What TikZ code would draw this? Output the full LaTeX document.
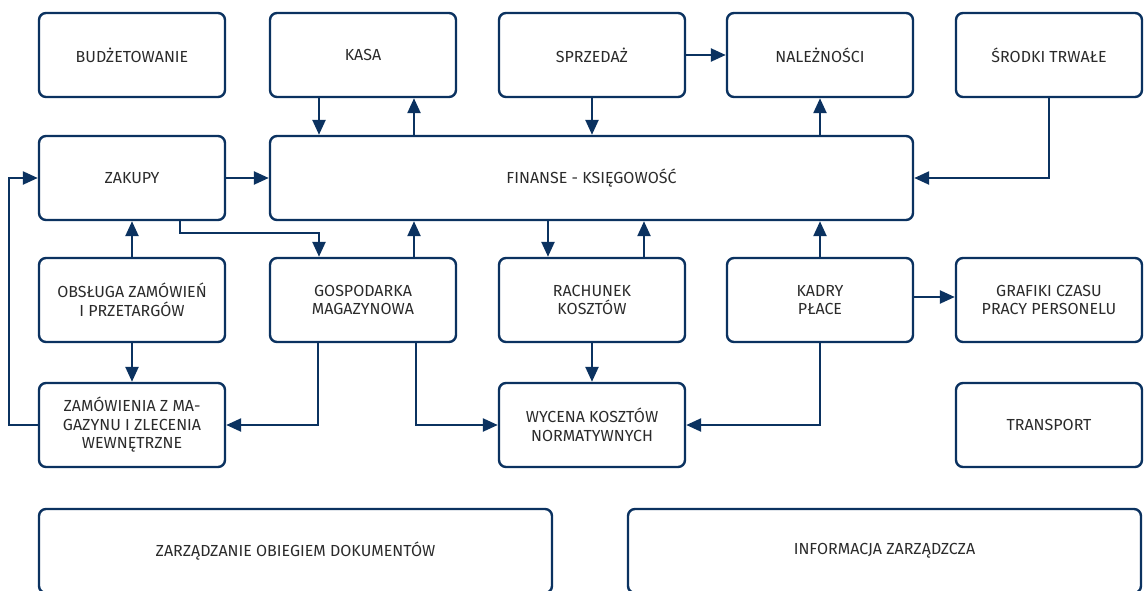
\documentclass[tikz,border=0pt]{standalone}
\usepackage{fontspec}
\setmainfont{Fira Sans}
\usetikzlibrary{arrows.meta}
\definecolor{navy}{HTML}{0B3260}
\definecolor{txt}{HTML}{2B2B2B}
\tikzset{
  box/.style={draw=navy, line width=2.4pt, rounded corners=7pt, align=center, text=txt,
    font=\fontsize{16}{18.5}\selectfont, inner sep=0pt, minimum width=186pt, minimum height=84pt},
  conn/.style={draw=navy, line width=2.4pt, -{Triangle[length=15pt,width=13pt]}}
}
\begin{document}
\begin{tikzpicture}[x=1pt,y=-1pt]
\useasboundingbox (0,0) rectangle (1144,590);
% row 1
\node[box] (bud) at (132,55) {BUDŻETOWANIE};
\node[box] (kas) at (363,55) {KASA};
\node[box] (spr) at (592,55) {SPRZEDAŻ};
\node[box] (nal) at (820,55) {NALEŻNOŚCI};
\node[box] (sro) at (1049,55) {ŚRODKI TRWAŁE};
% row 2
\node[box] (zak) at (132,178) {ZAKUPY};
\node[box, minimum width=643pt] (fin) at (591.5,178) {FINANSE - KSIĘGOWOŚĆ};
% row 3
\node[box] (obs) at (132,300) {OBSŁUGA ZAMÓWIEŃ\\I PRZETARGÓW};
\node[box] (gos) at (363,300) {GOSPODARKA\\MAGAZYNOWA};
\node[box] (rach) at (592,300) {RACHUNEK\\KOSZTÓW};
\node[box] (kad) at (820,300) {KADRY\\PŁACE};
\node[box] (gra) at (1049,300) {GRAFIKI CZASU\\PRACY PERSONELU};
% row 4
\node[box] (zam) at (132,425) {ZAMÓWIENIA Z MA-\\GAZYNU I ZLECENIA\\WEWNĘTRZNE};
\node[box] (wyc) at (592,425) {WYCENA KOSZTÓW\\NORMATYWNYCH};
\node[box] (tra) at (1049,425) {TRANSPORT};
% row 5
\node[box, minimum width=513pt] (obi) at (295.5,551) {ZARZĄDZANIE OBIEGIEM DOKUMENTÓW};
\node[box, minimum width=513pt] (inf) at (884.5,551) {INFORMACJA ZARZĄDZCZA};
% connectors
\draw[conn] (kas.south -| 319,0) -- (fin.north -| 319,0);
\draw[conn] (fin.north -| 414,0) -- (kas.south -| 414,0);
\draw[conn] (spr.south) -- (fin.north -| spr.south);
\draw[conn] (fin.north -| nal.south) -- (nal.south);
\draw[conn] (spr.east) -- (nal.west);
\draw[conn] (sro.south) |- (fin.east);
\draw[conn] (zak.east) -- (fin.west |- zak.east);
\draw[conn] (zam.west) -- ++(-29,0) |- (zak.west);
\draw[conn] (obs.north) -- (zak.south);
\draw[conn] (obs.south) -- (zam.north);
\draw[conn] (zak.south -| 180,0) -- (180,233) -| (gos.north -| 319,0);
\draw[conn] (gos.north -| 414,0) -- (fin.south -| 414,0);
\draw[conn] (gos.south -| 318,0) |- (zam.east);
\draw[conn] (gos.south -| 416,0) |- (wyc.west);
\draw[conn] (fin.south -| 548,0) -- (rach.north -| 548,0);
\draw[conn] (rach.north -| 644,0) -- (fin.south -| 644,0);
\draw[conn] (rach.south) -- (wyc.north);
\draw[conn] (kad.north) -- (fin.south -| kad.north);
\draw[conn] (kad.east |- 0,297) -- (gra.west |- 0,297);
\draw[conn] (kad.south) |- (wyc.east);
\end{tikzpicture}
\end{document}
